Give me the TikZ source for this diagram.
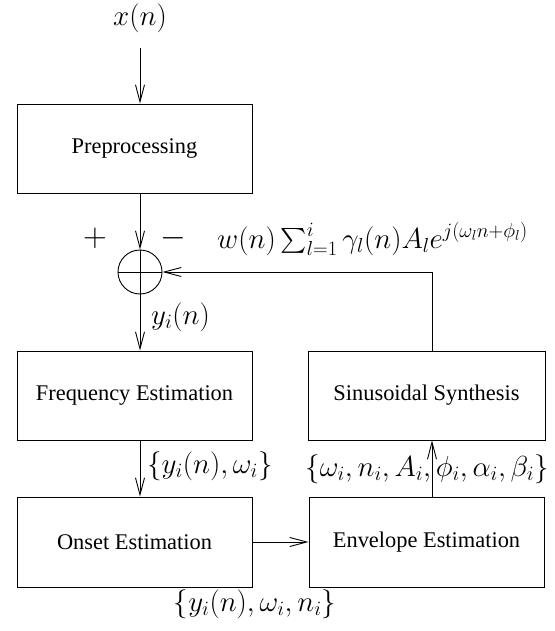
\RequirePackage{fix-cm}
\documentclass[tikz,border=0pt]{standalone}
\usepackage{fontspec}
\setmainfont{Liberation Serif}
\usepackage{amsmath}
\usetikzlibrary{arrows.meta,calc}

\begin{document}
\begin{tikzpicture}[x=1pt,y=-1pt,
  box/.style={draw,line width=0.9pt,minimum width=235pt,minimum height=89pt,font=\fontsize{22.4}{27}\selectfont},
  sumnode/.style={draw,circle,line width=0.9pt,minimum size=44pt,inner sep=0pt},
  line/.style={draw,line width=0.9pt},
  arr/.style={line,-{Straight Barb[length=17pt,width=9pt]}},
  lbl/.style={inner sep=0pt,font=\fontsize{29}{34}\selectfont},
  sign/.style={inner sep=0pt,font=\fontsize{33}{38}\selectfont}
]
\useasboundingbox (0,0) rectangle (554,631);
\node[lbl] (xin) at (140,18) {$x(n)$};
\coordinate (in) at (140,48);
\node[box] (pre) at (134.5,148.5) {Preprocessing};
\node[sumnode] (sum) at (140,272) {};
\node[box] (freq) at (134.5,395.5) {Frequency Estimation};
\node[box,minimum width=237pt] (syn) at (426.5,395.5) {Sinusoidal Synthesis};
\node[box,minimum height=90pt] (onset) at (134.5,542) {Onset Estimation};
\node[box,minimum height=90pt] (env) at (426.5,542) {Envelope Estimation};
\coordinate (fb) at (432,272);
% cross in the adder
\draw[line] (sum.north) -- (sum.south);
\draw[line] (sum.west) -- (sum.east);
% signal path
\draw[arr] (in) -- (in |- pre.north);
\draw[arr] (in |- pre.south) -- (sum.north);
\draw[arr] (sum.south) -- (in |- freq.north);
\draw[arr] (in |- freq.south) -- (in |- onset.north);
\draw[arr] (onset.east |- 0,542) -- (env.west |- 0,542);
\draw[arr] (fb |- env.north) -- (fb |- syn.south);
\draw[arr] (fb |- syn.north) -- (fb) -- (sum.east);
% labels
\node[sign] (plus) at (95,238) {$+$};
\node[sign] (minus) at (173,238) {$-$};
\node[lbl,anchor=base west] (wsum) at (217,248) {$w(n)\sum_{l=1}^{i}\gamma_l(n)A_le^{j(\omega_ln+\phi_l)}$};
\node[lbl,anchor=west] (yin) at (151,317) {$y_i(n)$};
\node[lbl,anchor=west] (yw) at (147,466) {$\{y_i(n),\omega_i\}$};
\node[lbl] (par) at (427,469) {$\{\omega_i,n_i,A_i,\phi_i,\alpha_i,\beta_i\}$};
\node[lbl] (ywn) at (255,604) {$\{y_i(n),\omega_i,n_i\}$};
\end{tikzpicture}
\end{document}
